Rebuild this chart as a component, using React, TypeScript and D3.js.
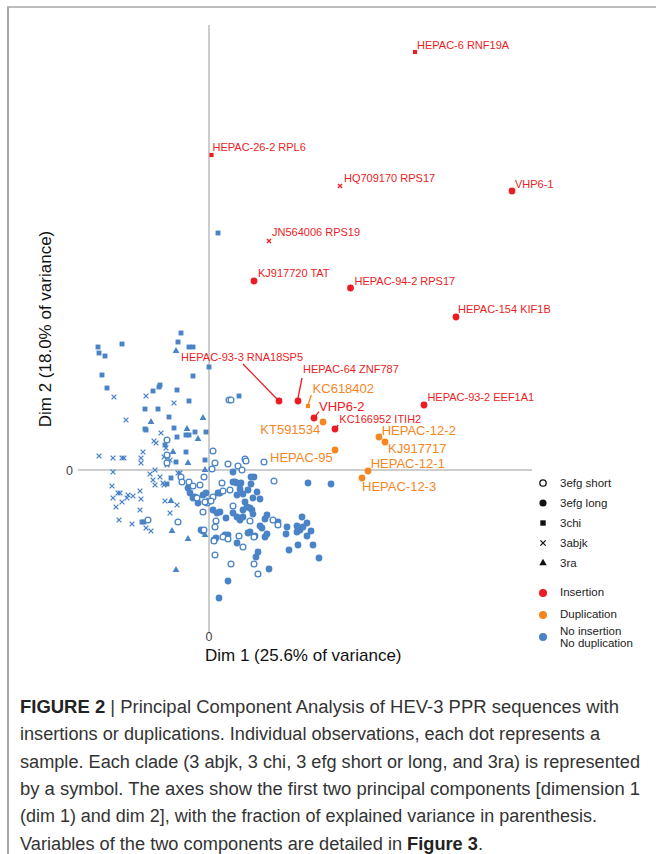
import React, { useEffect, useRef } from 'react';
import * as d3 from 'd3';

type Pt = [number, number];

// blue points: no insertion / no duplication, [dim1, dim2]
const efgShort: Pt[] = [
  [-4.2, 3.0], [0.4, 1.9], [0.6, 0.7], [0.3, 0.1], [-0.5, -0.7], [-2.8, -0.7], [-2.7, -1.2], [-2.0, -1.2],
  [-1.6, -1.6], [-0.9, -1.5], [-6.1, -5.0], [-3.1, -5.2], [-0.6, -4.2], [-0.2, -3.3], [0.4, -2.7], [-1.2, -2.8],
  [0.7, -5.1], [0.6, -5.7], [0.5, -7.1], [0.6, -8.5], [-0.5, -6.0], [2.0, 7.0], [2.2, 7.0], [6.5, -1.1],
  [1.9, 0.6], [2.9, 0.4], [3.6, 1.1], [3.7, 0.9], [3.3, 0.0], [5.5, 0.8], [1.3, -1.3], [2.1, -2.0],
  [1.4, -2.1], [2.4, -3.6], [6.4, -5.0], [6.9, -5.5], [4.1, -5.1], [1.4, -6.7], [3.0, -6.6], [3.4, -7.7],
  [2.2, -9.4], [4.5, -9.4], [4.9, -10.4], [4.5, -6.7], [-0.4, -3.2], [0.2, -3.1], [1.9, -6.9], [-4.2, 0.7],
  [-4.2, 1.5],
];
const efgLong: Pt[] = [
  [-2.1, -1.8], [-1.9, -2.3], [-1.4, -2.7], [-1.1, -3.3], [-0.6, -2.5], [-0.3, -2.3], [-0.1, -3.2], [0.9, -2.3],
  [0.4, -4.0], [0.8, -4.3], [-0.8, -6.0], [-0.6, -6.1], [0.7, -6.8], [1.0, -12.8], [-1.6, -2.8], [2.4, -0.2],
  [4.2, -0.7], [4.5, -0.7], [9.9, -1.3], [12.2, -1.4], [2.4, -1.2], [2.6, -1.2], [2.8, -1.3], [3.2, -1.3],
  [4.2, -1.4], [1.1, -2.3], [2.8, -2.5], [3.4, -2.4], [3.9, -2.0], [4.8, -2.2], [4.4, -2.8], [5.1, -2.9],
  [3.1, -1.9], [3.6, -3.2], [3.8, -3.7], [4.1, -3.8], [4.3, -4.0], [3.4, -4.0], [2.4, -4.3], [1.1, -4.2],
  [1.7, -4.8], [3.1, -5.0], [3.4, -4.7], [4.4, -4.4], [5.8, -4.5], [5.6, -4.9], [5.1, -5.6], [5.3, -5.8],
  [4.1, -6.2], [5.8, -6.4], [5.6, -6.7], [4.6, -6.6], [6.9, -5.2], [7.8, -5.7], [7.7, -6.4], [9.3, -4.7],
  [9.8, -5.3], [8.8, -5.6], [8.9, -5.8], [9.1, -6.0], [8.8, -6.2], [9.4, -5.7], [10.2, -6.1], [9.8, -6.6],
  [10.4, -7.5], [8.9, -7.5], [8.0, -8.0], [11.0, -8.8], [2.8, -7.3], [3.9, -6.3], [4.9, -8.2], [4.7, -8.7],
  [6.0, -9.9], [1.9, -11.1], [1.9, -6.5], [2.8, -4.7], [1.6, -6.5], [0.5, -7.0],
];
const chi: Pt[] = [
  [-2.8, 13.7], [-3.1, 12.8], [-2.0, 12.3], [-1.6, 12.3], [-11.1, 12.3], [-11.0, 11.7], [-10.4, 11.4], [-8.7, 12.6],
  [0.0, 10.3], [-1.6, 9.4], [-10.7, 9.5], [-10.2, 8.2], [-4.9, 8.5], [-5.0, 8.3], [-5.6, 7.9], [-3.2, 8.0],
  [-2.0, 6.9], [-6.4, 6.1], [-5.1, 6.1], [-4.0, 5.3], [-6.4, 4.1], [-6.3, 4.0], [-3.5, 4.2], [-3.2, 3.3],
  [-2.3, 3.5], [-2.0, 3.5], [-1.4, 3.8], [-0.3, 3.8], [-2.3, 1.8], [-0.4, 1.0], [-3.3, 0.8], [-4.4, 2.5],
  [0.9, 23.7], [3.0, 7.4], [-3.8, -0.8], [-4.2, -1.4], [-6.7, -5.2], [-6.5, -5.2],
];
const abjk: Pt[] = [
  [-9.5, 7.3], [-6.3, 7.4], [-3.5, 6.7], [-8.3, 5.0], [-4.8, 3.7], [-5.5, 2.9], [-5.3, 2.7], [-4.3, 2.2],
  [-6.6, 1.8], [-11.0, 1.4], [-9.6, 1.2], [-8.7, 1.2], [-8.5, 1.2], [-6.8, 1.2], [-6.8, 0.7], [-4.5, 1.3],
  [-4.1, 1.2], [-3.9, 1.0], [-4.2, 0.5], [-9.6, -0.2], [-5.9, -0.4], [-5.4, 0.0], [-4.9, -0.7], [-3.1, -0.3],
  [-5.6, -1.0], [-5.4, -1.5], [-4.5, -1.5], [-9.7, -1.6], [-9.1, -2.3], [-8.9, -2.3], [-9.6, -2.8], [-8.1, -2.5],
  [-7.6, -2.6], [-6.9, -2.1], [-6.8, -2.9], [-8.7, -3.2], [-8.2, -2.8], [-9.3, -3.7], [-6.9, -4.0], [-4.4, -3.1],
  [-3.9, -4.3], [-3.2, -3.5], [-9.0, -5.0], [-7.7, -5.4], [-6.3, -5.8], [-5.8, -6.1], [-4.6, -1.3], [-2.9, -0.3],
  [0.0, -3.0],
];
const ra: Pt[] = [
  [-3.3, 11.9], [-5.8, 4.8], [-0.6, 5.2], [-2.2, 4.1], [-1.1, 3.1], [-3.6, 1.8], [-2.1, 0.7], [-0.4, 0.0],
  [-3.8, -3.1], [-3.7, -6.1], [-2.1, -6.9], [-3.3, -10.0], [-0.4, -6.5],
];

// sequences with insertion or duplication
const labelled = [
  { name: 'HEPAC-6 RNF19A', clade: 'chi', group: 'insertion', dim1: 20.6, dim2: 41.8 },
  { name: 'HEPAC-26-2 RPL6', clade: 'chi', group: 'insertion', dim1: 0.25, dim2: 31.5 },
  { name: 'HQ709170 RPS17', clade: 'abjk', group: 'insertion', dim1: 13.1, dim2: 28.4 },
  { name: 'VHP6-1', clade: 'efgLong', group: 'insertion', dim1: 30.3, dim2: 27.9 },
  { name: 'JN564006 RPS19', clade: 'abjk', group: 'insertion', dim1: 6.0, dim2: 22.9 },
  { name: 'KJ917720 TAT', clade: 'efgLong', group: 'insertion', dim1: 4.5, dim2: 18.9 },
  { name: 'HEPAC-94-2 RPS17', clade: 'efgLong', group: 'insertion', dim1: 14.15, dim2: 18.2 },
  { name: 'HEPAC-154 KIF1B', clade: 'efgLong', group: 'insertion', dim1: 24.7, dim2: 15.3 },
  { name: 'HEPAC-93-3 RNA18SP5', clade: 'efgLong', group: 'insertion', dim1: 7.0, dim2: 6.9 },
  { name: 'HEPAC-64 ZNF787', clade: 'efgLong', group: 'insertion', dim1: 8.9, dim2: 6.9 },
  { name: 'KC618402', clade: 'chi', group: 'duplication', dim1: 9.9, dim2: 6.4 },
  { name: 'VHP6-2', clade: 'efgLong', group: 'insertion', dim1: 10.5, dim2: 5.2 },
  { name: 'KT591534', clade: 'efgLong', group: 'duplication', dim1: 11.4, dim2: 4.8 },
  { name: 'KC166952 ITIH2', clade: 'efgLong', group: 'insertion', dim1: 12.6, dim2: 4.1 },
  { name: 'HEPAC-93-2 EEF1A1', clade: 'efgLong', group: 'insertion', dim1: 21.5, dim2: 6.5 },
  { name: 'HEPAC-12-2', clade: 'efgLong', group: 'duplication', dim1: 17.0, dim2: 3.3 },
  { name: 'KJ917717', clade: 'efgLong', group: 'duplication', dim1: 17.6, dim2: 2.8 },
  { name: 'HEPAC-95', clade: 'efgLong', group: 'duplication', dim1: 12.6, dim2: 2.0 },
  { name: 'HEPAC-12-1', clade: 'efgLong', group: 'duplication', dim1: 15.9, dim2: -0.1 },
  { name: 'HEPAC-12-3', clade: 'efgLong', group: 'duplication', dim1: 15.3, dim2: -0.8 },
];

const cladeLegend = ['3efg short', '3efg long', '3chi', '3abjk', '3ra'];
const cladeKeys = ['efgShort', 'efgLong', 'chi', 'abjk', 'ra'];
const groupLegend = [['Insertion'], ['Duplication'], ['No insertion', 'No duplication']];
const groupKeys = ['insertion', 'duplication', 'none'];

const xTitle = 'Dim 1 (25.6% of variance)';
const yTitle = 'Dim 2 (18.0% of variance)';

const caption = [
  { bold: 'FIGURE 2', text: ' | Principal Component Analysis of HEV-3 PPR sequences with', tail: '' },
  { bold: '', text: 'insertions or duplications. Individual observations, each dot represents a', tail: '' },
  { bold: '', text: 'sample. Each clade (3 abjk, 3 chi, 3 efg short or long, and 3ra) is represented', tail: '' },
  { bold: '', text: 'by a symbol. The axes show the first two principal components [dimension 1', tail: '' },
  { bold: '', text: '(dim 1) and dim 2], with the fraction of explained variance in parenthesis.', tail: '' },
  { bold: '', text: 'Variables of the two components are detailed in ', tail: 'Figure 3' },
];

// label placement relative to the point, in px
const labelLayout: Record<string, { dx: number; dy: number; anchor?: string; big?: boolean; lead?: number[] }> = {
  'HEPAC-6 RNF19A': { dx: 2, dy: -3 },
  'HEPAC-26-2 RPL6': { dx: 1, dy: -4 },
  'HQ709170 RPS17': { dx: 4, dy: -4 },
  'VHP6-1': { dx: 3, dy: -3 },
  'JN564006 RPS19': { dx: 3, dy: -5 },
  'KJ917720 TAT': { dx: 4, dy: -4 },
  'HEPAC-94-2 RPS17': { dx: 4, dy: -3 },
  'HEPAC-154 KIF1B': { dx: 2, dy: -4 },
  'HEPAC-93-3 RNA18SP5': { dx: -98, dy: -40, lead: [-36, -37, -2, -2] },
  'HEPAC-64 ZNF787': { dx: 5, dy: -28, lead: [4, -23, 0, -3] },
  'KC618402': { dx: 4.6, dy: -12.7, big: true, lead: [3.3, -11, 0.3, -2] },
  'VHP6-2': { dx: 5, dy: -6.7, big: true, lead: [5, -6.3, 1, -1.3] },
  'KT591534': { dx: -2.7, dy: 12.4, anchor: 'end', big: true },
  'KC166952 ITIH2': { dx: 4.3, dy: -5.8, lead: [3.3, -4, 0.7, -0.7] },
  'HEPAC-93-2 EEF1A1': { dx: 3.4, dy: -3.8 },
  'HEPAC-12-2': { dx: 2.7, dy: -2, big: true },
  'KJ917717': { dx: 3, dy: 11.3, big: true },
  'HEPAC-95': { dx: -2.3, dy: 12.3, anchor: 'end', big: true },
  'HEPAC-12-1': { dx: 2.7, dy: -2.7, big: true },
  'HEPAC-12-3': { dx: 0, dy: 13.3, big: true },
};

const colors: Record<string, string> = {
  insertion: '#eb1c24',
  duplication: '#f6861f',
  none: '#4a84c6',
};

const W = 656;
const H = 854;
const sans = '"Liberation Sans", Arial, sans-serif';

function drawMark(g: any, clade: string, cx: number, cy: number, color: string, scale = 1) {
  if (clade === 'efgShort') {
    g.append('circle').attr('cx', cx).attr('cy', cy).attr('r', 2.9 * scale)
      .attr('fill', 'white').attr('stroke', color).attr('stroke-width', 1.3);
  } else if (clade === 'efgLong') {
    g.append('circle').attr('cx', cx).attr('cy', cy).attr('r', 3.4 * scale).attr('fill', color);
  } else if (clade === 'chi') {
    g.append('path').attr('transform', `translate(${cx},${cy})`)
      .attr('d', d3.symbol(d3.symbolSquare, 24 * scale * scale)()).attr('fill', color);
  } else if (clade === 'abjk') {
    const r = 2.4 * scale;
    const p = d3.path();
    p.moveTo(-r, -r); p.lineTo(r, r); p.moveTo(-r, r); p.lineTo(r, -r);
    g.append('path').attr('transform', `translate(${cx},${cy})`)
      .attr('d', p.toString())
      .attr('fill', 'none').attr('stroke', color).attr('stroke-width', 1.3);
  } else {
    g.append('path').attr('transform', `translate(${cx},${cy})`)
      .attr('d', d3.symbol(d3.symbolTriangle, 20 * scale * scale)()).attr('fill', color);
  }
}

const App: React.FC = () => {
  const svgRef = useRef<SVGSVGElement>(null);

  useEffect(() => {
    if (!svgRef.current) return;
    const svg = d3.select(svgRef.current);
    svg.selectAll('*').remove();

    const x = d3.scaleLinear().domain([-13.1, 32.3]).range([78, 532]);
    const y = d3.scaleLinear().domain([-16.2, 44.5]).range([632, 25]);

    // frame
    svg.append('line').attr('x1', 7).attr('x2', W).attr('y1', 7).attr('y2', 7)
      .attr('stroke', '#7a7a7a').attr('stroke-width', 1);
    svg.append('line').attr('x1', 8).attr('x2', 8).attr('y1', 7).attr('y2', H)
      .attr('stroke', '#a8a8a8').attr('stroke-width', 2);

    // axes through the origin
    svg.append('line').attr('x1', x.range()[0]).attr('x2', x.range()[1])
      .attr('y1', y(0)).attr('y2', y(0)).attr('stroke', '#bdbdbd').attr('stroke-width', 1.5);
    svg.append('line').attr('x1', x(0)).attr('x2', x(0))
      .attr('y1', y.range()[1]).attr('y2', y.range()[0]).attr('stroke', '#bdbdbd').attr('stroke-width', 1.5);

    svg.append('text').attr('x', x.range()[0] - 5).attr('y', y(0) + 4.5).attr('text-anchor', 'end')
      .style('font-family', sans).style('font-size', '12.5px').attr('fill', '#444').text('0');
    svg.append('text').attr('x', x(0)).attr('y', y.range()[0] + 9).attr('text-anchor', 'middle')
      .style('font-family', sans).style('font-size', '12.5px').attr('fill', '#444').text('0');

    svg.append('text').attr('x', 205).attr('y', 661)
      .style('font-family', sans).style('font-size', '17px').attr('fill', '#111').text(xTitle);
    svg.append('text').attr('transform', `translate(51, ${329}) rotate(-90)`).attr('text-anchor', 'middle')
      .style('font-family', sans).style('font-size', '17px').attr('fill', '#111').text(yTitle);

    // blue points
    const pts = svg.append('g');
    const blue: [string, Pt[]][] = [['abjk', abjk], ['chi', chi], ['ra', ra], ['efgLong', efgLong], ['efgShort', efgShort]];
    blue.forEach(([clade, arr]) => {
      arr.forEach(([a, b]) => drawMark(pts, clade, x(a), y(b), colors.none));
    });

    // labelled points
    const lab = svg.append('g');
    labelled.forEach(d => {
      const cx = x(d.dim1);
      const cy = y(d.dim2);
      const c = colors[d.group];
      const L = labelLayout[d.name];
      const small = d.clade === 'chi' || d.clade === 'abjk';
      drawMark(lab, d.clade, cx, cy, c, small ? 0.85 : 1);
      if (L.lead) {
        lab.append('line').attr('x1', cx + L.lead[0]).attr('y1', cy + L.lead[1])
          .attr('x2', cx + L.lead[2]).attr('y2', cy + L.lead[3])
          .attr('stroke', c).attr('stroke-width', 1.3);
      }
      lab.append('text').attr('x', cx + L.dx).attr('y', cy + L.dy)
        .attr('text-anchor', L.anchor || 'start')
        .style('font-family', sans).style('font-size', L.big ? '13px' : '11px')
        .attr('fill', c).text(d.name);
    });

    // legend
    const leg = svg.append('g').style('font-family', sans).style('font-size', '11.5px');
    const legY = d3.scalePoint<string>().domain(cladeKeys).range([483, 563]);
    cladeKeys.forEach((k, i) => {
      drawMark(leg, k, 543, legY(k)!, '#111', k === 'efgLong' ? 1.05 : 1.1);
      leg.append('text').attr('x', 560).attr('y', legY(k)! + 4).attr('fill', '#222').text(cladeLegend[i]);
    });
    const gY = d3.scalePoint<string>().domain(groupKeys).range([593, 637]);
    groupKeys.forEach((k, i) => {
      leg.append('circle').attr('cx', 543).attr('cy', gY(k)!).attr('r', 4).attr('fill', colors[k]);
      const lines = groupLegend[i];
      lines.forEach((t, j) => {
        const off = lines.length === 1 ? 0 : -2 + j * 11.7;
        leg.append('text').attr('x', 560).attr('y', gY(k)! + off + 4 - (lines.length === 1 ? 1 : 4))
          .attr('fill', '#222').text(t);
      });
    });

    // caption
    const capWidths = [599, 580, 620, 620, 577, 463];
    const cap = svg.append('g').style('font-family', '"Liberation Sans Narrow", "Liberation Sans", sans-serif')
      .style('font-size', '18px').attr('fill', '#333');
    caption.forEach((ln, i) => {
      const t = cap.append('text').attr('x', 20).attr('y', 713 + i * 27.3)
        .attr('textLength', capWidths[i]).attr('lengthAdjust', 'spacingAndGlyphs');
      if (ln.bold) t.append('tspan').style('font-weight', 'bold').attr('fill', '#222').text(ln.bold);
      t.append('tspan').text(ln.text);
      if (ln.tail) {
        t.append('tspan').style('font-weight', 'bold').attr('fill', '#222').text(ln.tail);
        t.append('tspan').text('.');
      }
    });
  }, []);

  return (
    <svg ref={svgRef} width={W} height={H}
      style={{ position: 'absolute', left: 0, top: 0, background: 'white' }} />
  );
};

export default App;
